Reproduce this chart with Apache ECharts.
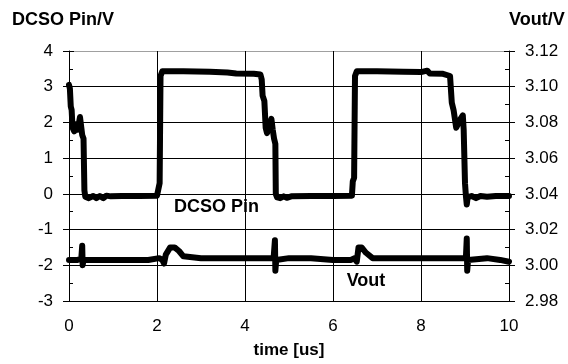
<!DOCTYPE html>
<html>
<head>
<meta charset="utf-8">
<script src="https://cdn.jsdelivr.net/npm/echarts@6/dist/echarts.min.js"></script>
<style>
  html, body { margin: 0; padding: 0; background: #fff; }
  #chart { width: 568px; height: 364px; }
</style>
</head>
<body>
<div id="chart"></div>
<script>
// DCSO Pin voltage (left axis), time in us
const pinTime = [0.00, 0.02, 0.04, 0.06, 0.08, 0.12, 0.16, 0.20, 0.25, 0.28, 0.30, 0.33, 0.35, 0.37, 0.45, 0.55, 0.62, 0.70, 0.78, 0.85, 0.95, 1.20, 1.60, 2.00, 2.04, 2.06, 2.08, 2.12, 2.60, 3.20, 3.60, 3.80, 4.20, 4.35, 4.38, 4.40, 4.44, 4.47, 4.50, 4.55, 4.60, 4.63, 4.66, 4.69, 4.70, 4.73, 4.80, 4.88, 4.95, 5.05, 5.50, 6.00, 6.43, 6.45, 6.48, 6.50, 6.54, 7.00, 7.60, 8.00, 8.14, 8.20, 8.50, 8.66, 8.70, 8.74, 8.80, 8.84, 8.90, 8.95, 8.97, 9.00, 9.02, 9.04, 9.06, 9.15, 9.25, 9.35, 9.50, 9.70, 10.00];
const pinValue = [3.05, 2.95, 2.45, 2.35, 1.85, 1.75, 1.95, 1.80, 2.15, 2.10, 1.65, 1.55, 0.10, -0.08, -0.12, -0.06, -0.12, -0.06, -0.12, -0.05, -0.07, -0.06, -0.06, -0.05, -0.03, 0.30, 3.30, 3.43, 3.43, 3.42, 3.40, 3.37, 3.36, 3.34, 3.20, 2.75, 2.60, 1.85, 1.70, 1.90, 2.10, 1.80, 1.55, 1.40, 0.00, -0.10, -0.12, -0.07, -0.11, -0.07, -0.06, -0.06, -0.05, 0.35, 0.45, 3.30, 3.43, 3.43, 3.42, 3.41, 3.45, 3.37, 3.36, 3.30, 2.55, 2.35, 1.85, 1.80, 2.10, 2.20, 1.80, 0.30, -0.05, -0.30, -0.10, -0.06, -0.12, -0.06, -0.08, -0.06, -0.06];

// Vout (right axis)
const voutTime = [0.00, 0.20, 0.28, 0.30, 0.31, 0.33, 0.60, 1.00, 1.40, 1.80, 2.05, 2.12, 2.16, 2.20, 2.30, 2.40, 2.50, 2.60, 3.00, 3.50, 4.00, 4.40, 4.65, 4.68, 4.69, 4.71, 5.00, 5.50, 6.00, 6.40, 6.50, 6.54, 6.58, 6.65, 6.75, 6.90, 7.50, 8.00, 8.60, 9.02, 9.04, 9.05, 9.07, 9.50, 9.80, 10.00];
const voutValue = [3.003, 3.003, 3.004, 3.011, 3.000, 3.003, 3.003, 3.003, 3.003, 3.003, 3.004, 3.003, 3.001, 3.006, 3.010, 3.010, 3.008, 3.005, 3.004, 3.004, 3.004, 3.004, 3.004, 3.014, 2.997, 3.003, 3.004, 3.004, 3.003, 3.003, 3.004, 3.002, 3.010, 3.010, 3.007, 3.004, 3.004, 3.004, 3.004, 3.004, 3.015, 2.997, 3.003, 3.004, 3.003, 3.002];

const xTicks = { min: 0, max: 10, interval: 2 };
const leftTicks = { min: -3, max: 4, interval: 1 };
const rightTicks = { min: 2.98, max: 3.12, interval: 0.02 };

const FONT = '"Liberation Sans", Arial, sans-serif';

const pinData = pinTime.map((t, i) => [t, pinValue[i]]);
const voutData = voutTime.map((t, i) => [t, voutValue[i]]);

// one colour per horizontal grid line, top one (value 4) grey like the plot border
const hLineColors = [];
for (let v = leftTicks.min; v <= leftTicks.max; v += leftTicks.interval) {
  hLineColors.push(v === leftTicks.max ? '#a0a0a0' : '#000');
}

const chart = echarts.init(document.getElementById('chart'), null, { renderer: 'canvas' });

const option = {
  backgroundColor: '#fff',
  animation: false,
  textStyle: { fontFamily: FONT, color: '#000' },
  grid: { left: 69, right: 59, top: 51, bottom: 63, containLabel: false },
  xAxis: {
    type: 'value',
    min: xTicks.min,
    max: xTicks.max,
    interval: xTicks.interval,
    name: 'time [us]',
    nameLocation: 'middle',
    nameGap: 41,
    nameTextStyle: { fontFamily: FONT, fontSize: 17, fontWeight: 'bold', color: '#000' },
    axisLine: { lineStyle: { color: '#000', width: 1 } },
    axisTick: { show: true, length: 7, lineStyle: { color: '#000' } },
    axisLabel: { fontFamily: FONT, fontSize: 17, color: '#000', margin: 17 },
    splitLine: { show: true, lineStyle: { color: '#000', width: 1 } },
  },
  yAxis: [
    {
      type: 'value',
      position: 'left',
      min: leftTicks.min,
      max: leftTicks.max,
      interval: leftTicks.interval,
      name: 'DCSO Pin/V',
      nameLocation: 'end',
      nameGap: 22,
      nameTextStyle: { fontFamily: FONT, fontSize: 18, fontWeight: 'bold', color: '#000', align: 'center', padding: [0, 12, 0, 0] },
      axisLine: { show: true, lineStyle: { color: '#000', width: 1 } },
      axisTick: { show: true, length: 6, lineStyle: { color: '#000' } },
      axisLabel: { fontFamily: FONT, fontSize: 17, color: '#000', margin: 16 },
      splitLine: { show: true, lineStyle: { color: hLineColors, width: 1 } },
    },
    {
      type: 'value',
      position: 'right',
      min: rightTicks.min,
      max: rightTicks.max,
      interval: rightTicks.interval,
      name: 'Vout/V',
      nameLocation: 'end',
      nameGap: 22,
      nameTextStyle: { fontFamily: FONT, fontSize: 18, fontWeight: 'bold', color: '#000', align: 'left' },
      axisLine: { show: true, lineStyle: { color: '#000', width: 1 } },
      axisTick: { show: true, length: 6, lineStyle: { color: '#000' } },
      axisLabel: {
        fontFamily: FONT, fontSize: 17, color: '#000', margin: 16,
        formatter: (v) => v.toFixed(2),
      },
      splitLine: { show: false },
    },
    // helper axes: inner half of the ticks plus the minor ticks
    {
      type: 'value',
      position: 'left',
      min: leftTicks.min,
      max: leftTicks.max,
      interval: leftTicks.interval,
      axisLine: { show: false },
      axisLabel: { show: false },
      splitLine: { show: false },
      axisTick: { show: true, inside: true, length: 5, lineStyle: { color: '#000' } },
      minorTick: { show: true, splitNumber: 2, length: 4, lineStyle: { color: '#000' } },
    },
    {
      type: 'value',
      position: 'right',
      min: rightTicks.min,
      max: rightTicks.max,
      interval: rightTicks.interval,
      axisLine: { show: false },
      axisLabel: { show: false },
      splitLine: { show: false },
      axisTick: { show: true, inside: true, length: 5, lineStyle: { color: '#000' } },
      minorTick: { show: true, splitNumber: 2, length: 4, lineStyle: { color: '#000' } },
    },
  ],
  series: [
    {
      name: 'DCSO Pin',
      type: 'line',
      xAxisIndex: 0,
      yAxisIndex: 0,
      data: pinData,
      showSymbol: false,
      lineStyle: { color: '#000', width: 6, join: 'round', cap: 'round' },
      markPoint: {
        silent: true,
        symbol: 'circle',
        symbolSize: 1,
        itemStyle: { color: 'rgba(0,0,0,0)' },
        label: { show: true, position: 'inside', formatter: 'DCSO Pin', fontFamily: FONT, fontSize: 18, fontWeight: 'bold', color: '#000' },
        data: [{ coord: [3.35, -0.36] }],
      },
    },
    {
      name: 'Vout',
      type: 'line',
      xAxisIndex: 0,
      yAxisIndex: 1,
      data: voutData,
      showSymbol: false,
      lineStyle: { color: '#000', width: 6, join: 'round', cap: 'round' },
      markPoint: {
        silent: true,
        symbol: 'circle',
        symbolSize: 1,
        itemStyle: { color: 'rgba(0,0,0,0)' },
        label: { show: true, position: 'inside', formatter: 'Vout', fontFamily: FONT, fontSize: 18, fontWeight: 'bold', color: '#000' },
        data: [{ coord: [6.75, 2.991] }],
      },
    },
  ],
};

chart.setOption(option);
</script>
</body>
</html>
